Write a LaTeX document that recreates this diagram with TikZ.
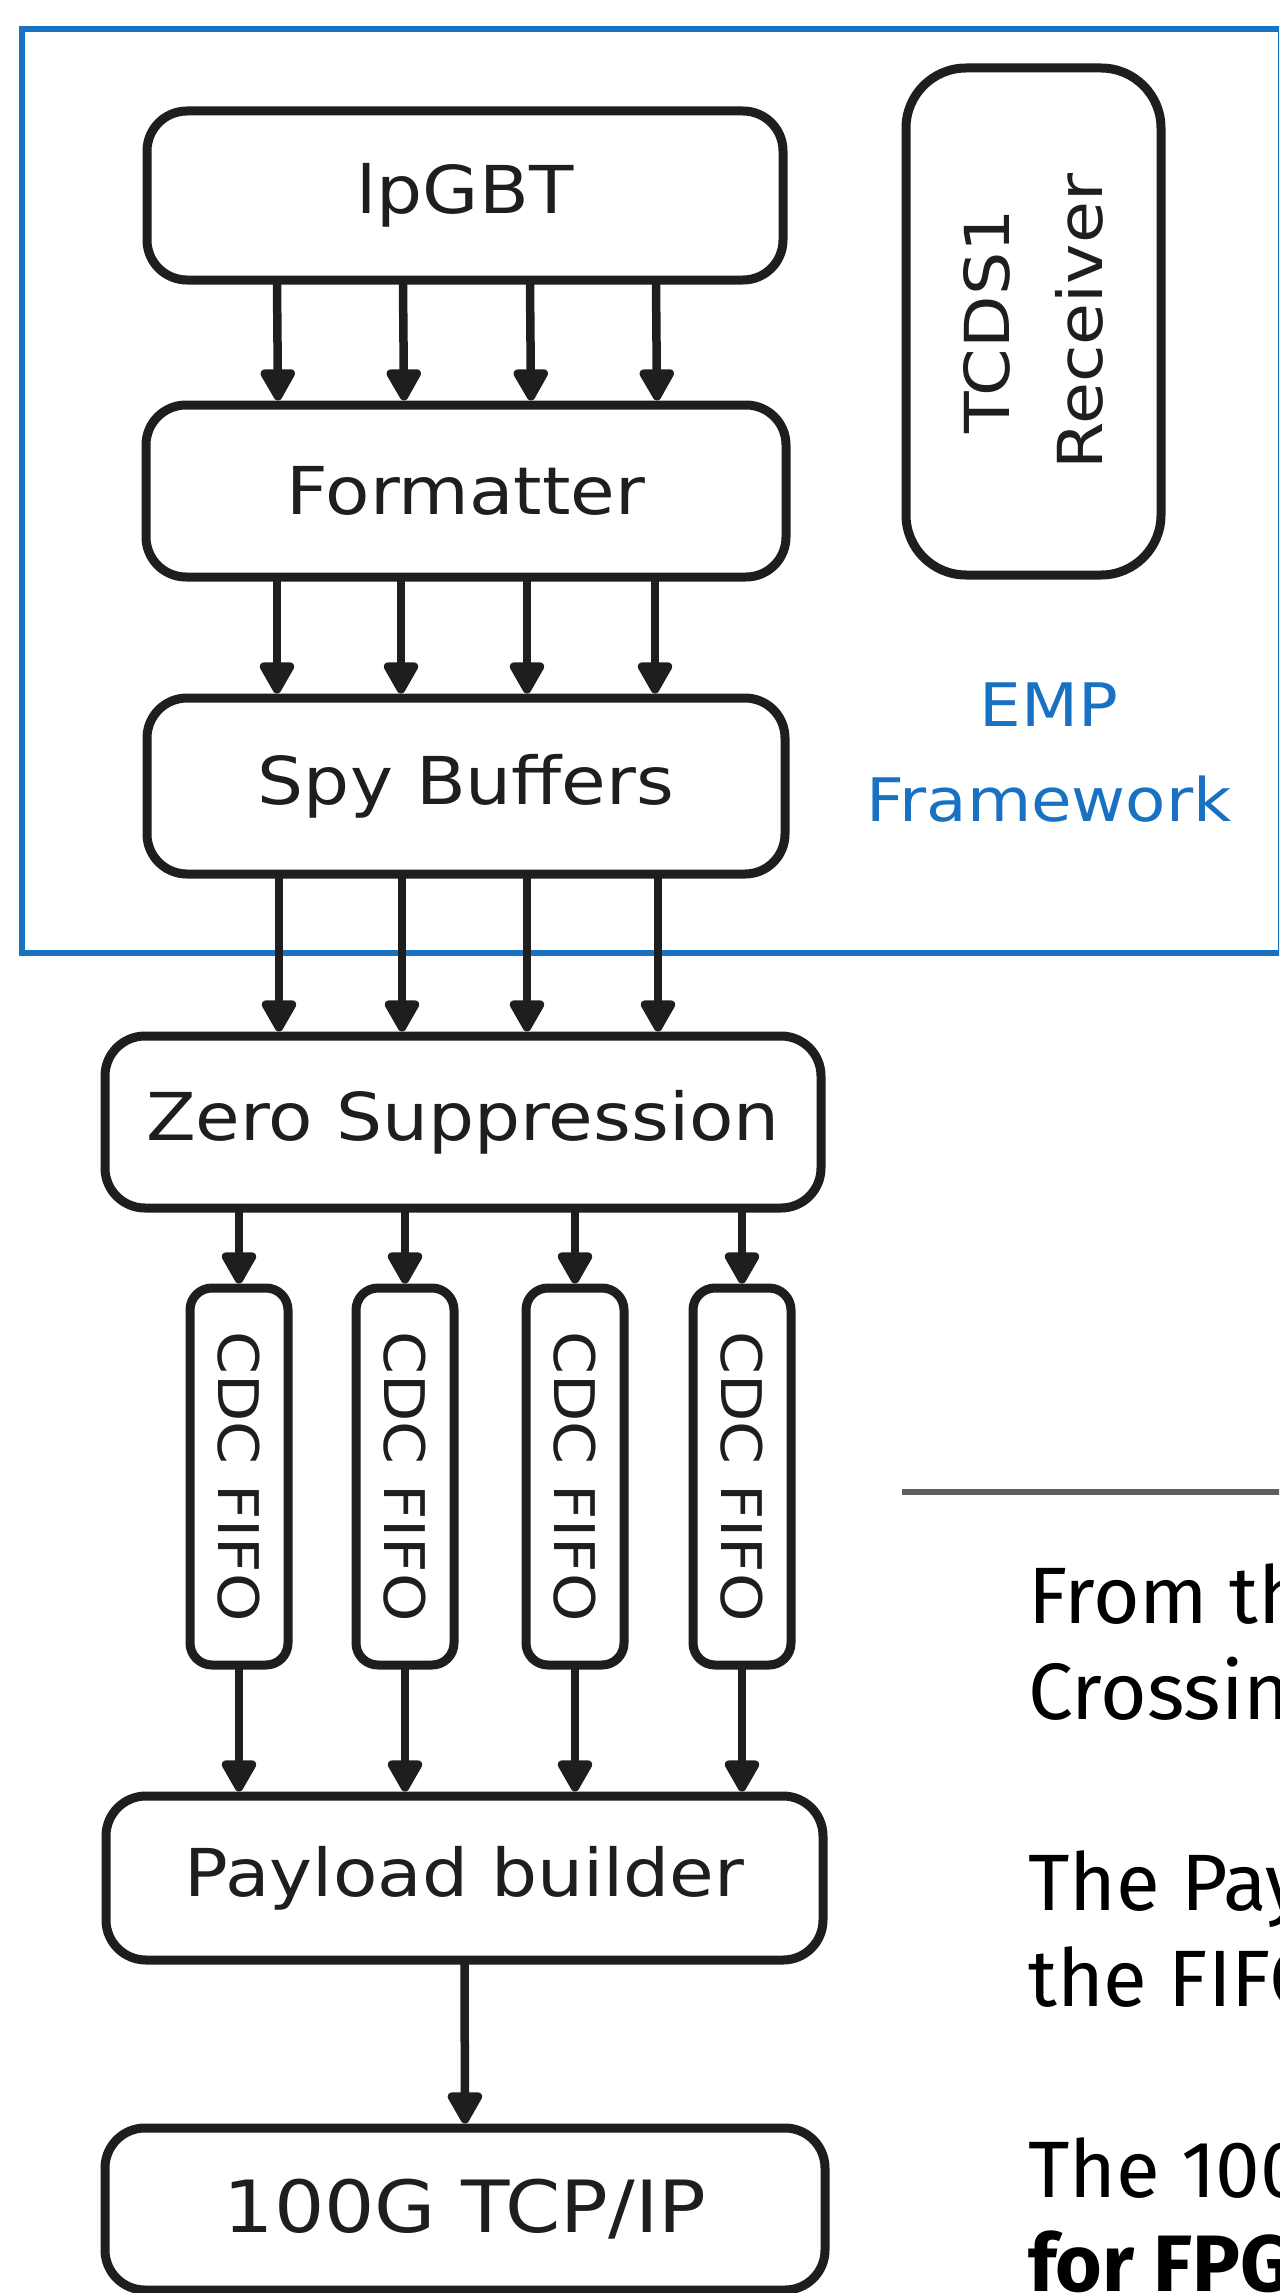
\documentclass[tikz,border=0pt]{standalone}
\usepackage{fontspec}
\usetikzlibrary{arrows.meta}
\newfontfamily\handfont[FakeStretch=1.1]{DejaVu Sans}
\newfontfamily\bodyfont{Fira Sans}
\definecolor{ink}{HTML}{1E1E1E}
\definecolor{empblue}{HTML}{1971C2}
\definecolor{rulegrey}{HTML}{5F5F5F}
\begin{document}
\begin{tikzpicture}[x=1pt,y=-1pt,
  box/.style={draw=ink, line width=9pt, rounded corners=40pt, inner sep=0pt, fill=white, text=ink,
    font=\handfont\fontsize{66}{80}\selectfont},
  fifo/.style={box, rounded corners=22pt, font=\handfont\fontsize{56}{66}\selectfont},
  arr/.style={draw=ink, line width=8.5pt, line cap=round, -{Triangle[length=36pt,width=38pt,round]}},
  emplbl/.style={text=empblue, inner sep=0pt, anchor=base, font=\handfont\fontsize{60}{70}\selectfont},
  note/.style={anchor=base west, inner sep=0pt, text=black, font=\bodyfont\fontsize{80}{96}\selectfont}
]
\useasboundingbox (0,0) rectangle (1279,2293);
\clip (0,0) rectangle (1279,2293);
\fill[white] (0,0) rectangle (1279,2293);

% EMP framework frame
\node[draw=empblue, line width=6.5pt, inner sep=0pt, minimum width=1259pt, minimum height=924pt] (frame) at (651.5,491) {};

% boxes
\node[box, minimum width=636pt, minimum height=169pt] (lp) at (465,195.5) {lpGBT};
\node[box, minimum width=640pt, minimum height=172pt] (fm) at (466,491) {Formatter};
\node[box, minimum width=638pt, minimum height=176pt] (spy) at (466,786) {Spy Buffers};
\node[box, rounded corners=60pt, rotate=90, minimum width=507pt, minimum height=255pt, align=center,
  font=\handfont\fontsize{62}{93}\selectfont] (tcds) at (1033.5,321.5) {TCDS1\\Receiver};
\node[emplbl] (emp) at (1049,726) {EMP};
\node[emplbl] (fw) at (1049,821) {Framework};
\node[box, minimum width=716pt, minimum height=172pt] (zs) at (463,1122) {Zero Suppression};
\foreach \n/\x in {f1/239,f2/405,f3/575,f4/742}
  \node[fifo, rotate=-90, minimum width=377pt, minimum height=98pt] (\n) at (\x,1476.5) {CDC FIFO};
\node[box, minimum width=717pt, minimum height=164pt] (pb) at (464.5,1878) {Payload builder};
\node[box, minimum width=720pt, minimum height=162pt, font=\handfont\fontsize{72}{86}\selectfont] (tcp) at (465,2209) {100G TCP/IP};

% arrows
\foreach \dx in {-188,-62,65,191}
  \draw[arr] ([xshift=\dx pt]lp.south) -- ([xshift=\dx pt]fm.north);
\foreach \dx in {-189,-65,61,189}
  \draw[arr] ([xshift=\dx pt]fm.south) -- ([xshift=\dx pt]spy.north);
\foreach \a/\b in {-187/-184,-64/-61,61/64,192/195}
  \draw[arr] ([xshift=\a pt]spy.south) -- ([xshift=\b pt]zs.north);
\foreach \n in {f1,f2,f3,f4} {
  \draw[arr] (zs.south -| \n.west) -- (\n.west);
  \draw[arr] (\n.east) -- (\n.east |- pb.north);
}
\draw[arr] (pb.south) -- (tcp.north);

% right-hand notes
\coordinate (ruleL) at (902,1492);
\coordinate (ruleR) at (1290,1492);
\draw[rulegrey, line width=6pt] (ruleL) -- (ruleR);
\node[note] (n1) at (1028,1623) {From th};
\node[note] (n2) at (1028,1719) {Crossin};
\node[note] (n3) at (1028,1910) {The Pay};
\node[note] (n4) at (1028,2006) {the FIFO};
\node[note] (n5) at (1028,2197) {The 100};
\node[note, font=\bodyfont\bfseries\fontsize{80}{96}\selectfont] (n6) at (1028,2291) {for FPG};
\end{tikzpicture}
\end{document}
